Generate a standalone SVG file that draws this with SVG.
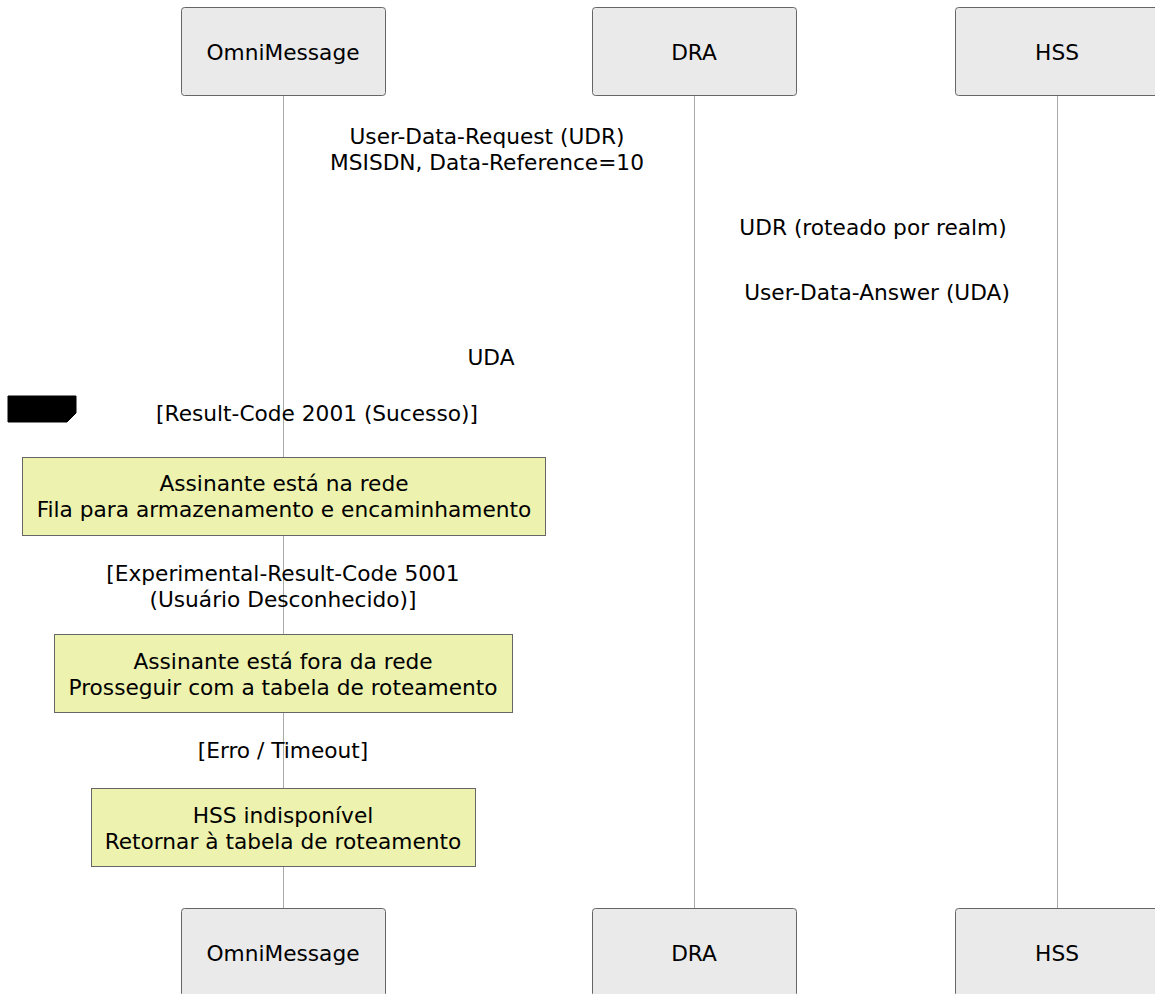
<svg xmlns="http://www.w3.org/2000/svg" width="1155" height="994" viewBox="0 0 1155 994">
<style>
  text { font-family: "DejaVu Sans", "Liberation Sans", sans-serif; font-size: 21.7px; fill: #000; text-anchor: middle; dominant-baseline: central; }
  .actor { fill: #eaeaea; stroke: #666; stroke-width: 1; }
  .note { fill: #edf2ae; stroke: #666; stroke-width: 1; }
  .life { stroke: #aaa; stroke-width: 1; fill: none; }
</style>
<rect width="1155" height="994" fill="#fff"/>
<g id="lifelines">
  <line class="life" x1="283.5" y1="95" x2="283.5" y2="908"/>
  <line class="life" x1="694.5" y1="95" x2="694.5" y2="908"/>
  <line class="life" x1="1057.5" y1="95" x2="1057.5" y2="908"/>
</g>
<g id="actor-omni-top"><rect class="actor" x="181.5" y="7.5" width="204" height="88" rx="3"/><text x="283" y="52">OmniMessage</text></g>
<g id="actor-dra-top"><rect class="actor" x="592.5" y="7.5" width="204" height="88" rx="3"/><text x="694" y="52">DRA</text></g>
<g id="actor-hss-top"><rect class="actor" x="955.5" y="7.5" width="204" height="88" rx="3"/><text x="1057" y="52">HSS</text></g>
<g id="connectors">
  <text x="487" y="136">User-Data-Request (UDR)</text>
  <text x="487" y="162">MSISDN, Data-Reference=10</text>
  <text x="873" y="227">UDR (roteado por realm)</text>
  <text x="877" y="292">User-Data-Answer (UDA)</text>
  <text x="491" y="357">UDA</text>
</g>
<g id="alt">
  <polygon points="8,396 76,396 76,413 67,422 8,422" fill="#000" stroke="#000"/>
  <text x="317" y="413">[Result-Code 2001 (Sucesso)]</text>
  <text x="283" y="573">[Experimental-Result-Code 5001</text>
  <text x="283" y="599">(Usuário Desconhecido)]</text>
  <text x="283" y="750">[Erro / Timeout]</text>
</g>
<g id="note1"><rect class="note" x="22.5" y="457.5" width="523" height="78"/><text x="284" y="483">Assinante está na rede</text><text x="284" y="509">Fila para armazenamento e encaminhamento</text></g>
<g id="note2"><rect class="note" x="54.5" y="634.5" width="458" height="78"/><text x="283" y="661">Assinante está fora da rede</text><text x="283" y="687">Prosseguir com a tabela de roteamento</text></g>
<g id="note3"><rect class="note" x="91.5" y="788.5" width="384" height="78"/><text x="283" y="815">HSS indisponível</text><text x="283" y="841">Retornar à tabela de roteamento</text></g>
<g id="actor-omni-bottom"><rect class="actor" x="181.5" y="908.5" width="204" height="88" rx="3"/><text x="283" y="953">OmniMessage</text></g>
<g id="actor-dra-bottom"><rect class="actor" x="592.5" y="908.5" width="204" height="88" rx="3"/><text x="694" y="953">DRA</text></g>
<g id="actor-hss-bottom"><rect class="actor" x="955.5" y="908.5" width="204" height="88" rx="3"/><text x="1057" y="953">HSS</text></g>
</svg>
